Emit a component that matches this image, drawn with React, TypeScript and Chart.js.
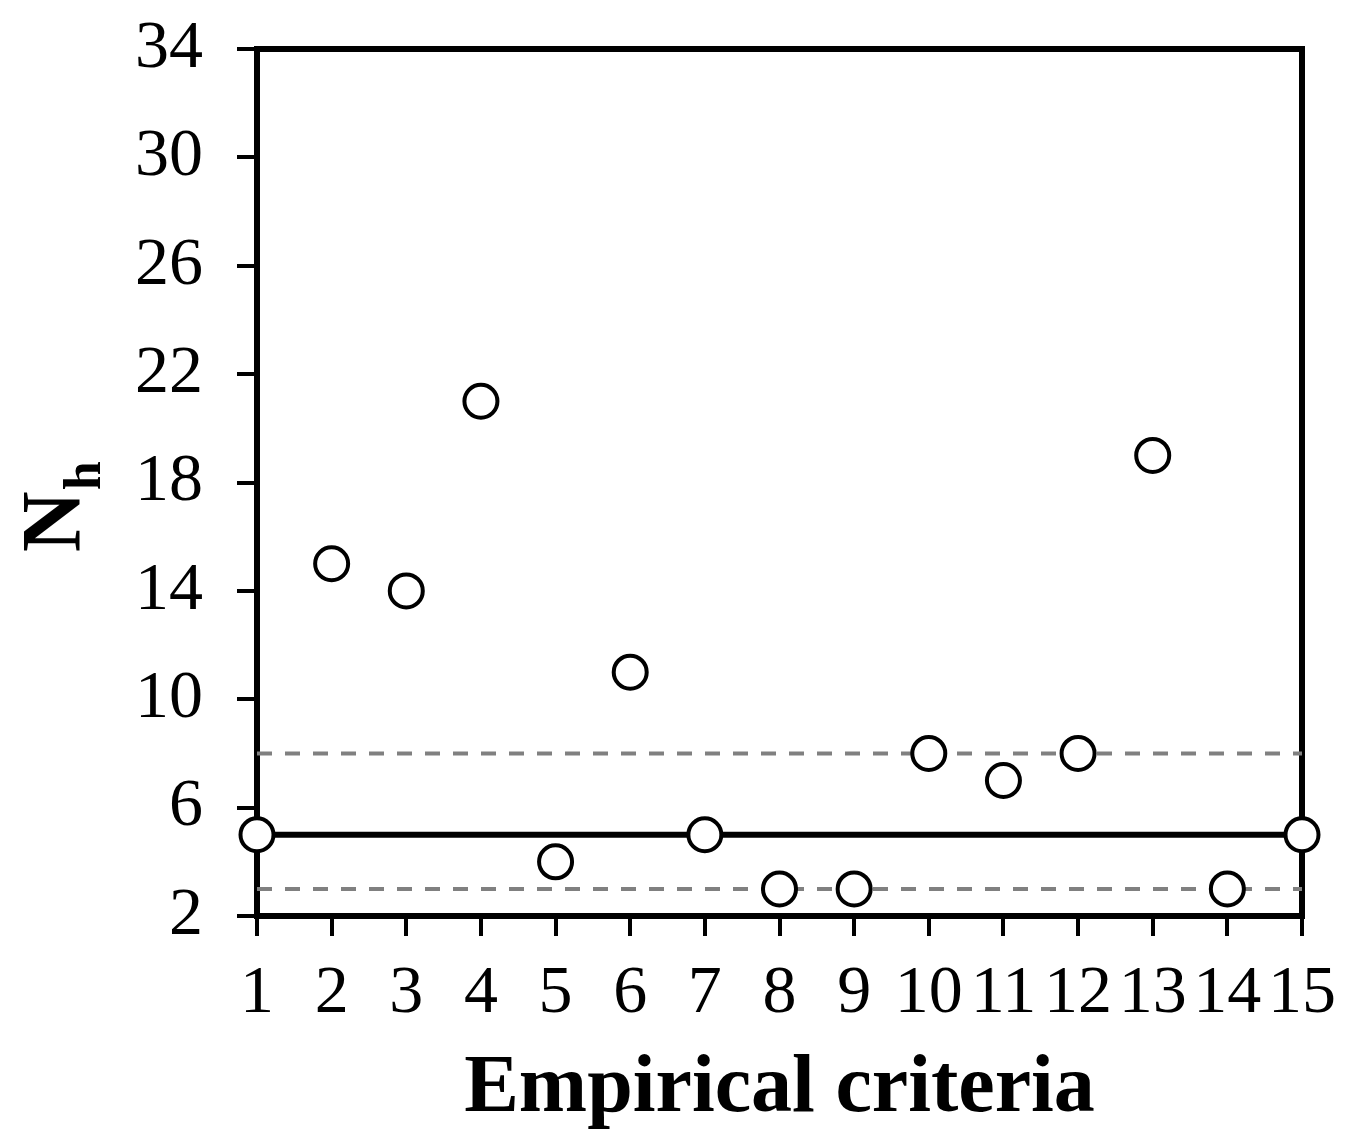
import React, { useEffect, useRef } from "react";
import { Chart, registerables } from "chart.js";

Chart.register(...registerables);

const criteria = [1, 2, 3, 4, 5, 6, 7, 8, 9, 10, 11, 12, 13, 14, 15];
const nhValues = [5, 15, 14, 21, 4, 11, 5, 3, 3, 8, 7, 8, 19, 3, 5];
const solidLevel = 5;
const dashedLevels = [8, 3];
const yMin = 2;
const yMax = 34;
const yStep = 4;
const xTitle = "Empirical criteria";
const yTitleMain = "N";
const yTitleSub = "h";

const FONT = "'Liberation Serif', 'Times New Roman', serif";

export default function App() {
  const ref = useRef<HTMLCanvasElement | null>(null);

  useEffect(() => {
    if (!ref.current) return;
    const xFirst = criteria[0];
    const xLast = criteria[criteria.length - 1];

    const framePlugin = {
      id: "frame",
      beforeDatasetsDraw(chart: any) {
        const { ctx, chartArea } = chart;
        ctx.save();
        ctx.strokeStyle = "#000";
        ctx.lineWidth = 6;
        ctx.strokeRect(chartArea.left, chartArea.top, chartArea.right - chartArea.left, chartArea.bottom - chartArea.top);
        ctx.restore();
      },
      afterDraw(chart: any) {
        const { ctx, chartArea } = chart;
        ctx.save();
        ctx.fillStyle = "#000";
        ctx.font = `bold 82px ${FONT}`;
        ctx.textAlign = "center";
        ctx.textBaseline = "alphabetic";
        ctx.fillText(xTitle, (chartArea.left + chartArea.right) / 2, 1111);
        ctx.translate(80, 552);
        ctx.rotate(-Math.PI / 2);
        ctx.textAlign = "left";
        ctx.font = `bold 84px ${FONT}`;
        ctx.fillText(yTitleMain, 0, 0);
        const w = ctx.measureText(yTitleMain).width;
        ctx.font = `bold 52px ${FONT}`;
        ctx.fillText(yTitleSub, w + 1, 20);
        ctx.restore();
      },
    };

    const chart = new Chart(ref.current, {
      type: "scatter",
      data: {
        datasets: [
          {
            type: "scatter",
            data: criteria.map((c, i) => ({ x: c, y: nhValues[i] })),
            pointRadius: 16.5,
            pointHoverRadius: 16.5,
            pointBackgroundColor: "#fff",
            pointBorderColor: "#000",
            pointBorderWidth: 4,
            clip: false,
            order: 0,
          } as any,
          {
            type: "line",
            data: [
              { x: xFirst, y: solidLevel },
              { x: xLast, y: solidLevel },
            ],
            borderColor: "#000",
            borderWidth: 6,
            pointRadius: 0,
            fill: false,
            clip: false,
            order: 1,
          } as any,
          ...dashedLevels.map(
            (lv) =>
              ({
                type: "line",
                data: [
                  { x: xFirst, y: lv },
                  { x: xLast, y: lv },
                ],
                borderColor: "#808080",
                borderWidth: 4,
                borderDash: [15, 13],
                pointRadius: 0,
                fill: false,
                clip: false,
                order: 2,
              } as any)
          ),
        ],
      },
      options: {
        responsive: true,
        maintainAspectRatio: false,
        animation: false,
        layout: { padding: { left: 0, top: 49, right: 54, bottom: 0 } },
        plugins: {
          legend: { display: false },
          tooltip: { enabled: false },
          title: { display: false },
        },
        scales: {
          x: {
            type: "linear",
            min: xFirst,
            max: xLast,
            afterFit(scale: any) {
              scale.height = 227;
              scale.paddingLeft = 0;
              scale.paddingRight = 0;
            },
            ticks: {
              stepSize: 1,
              color: "#000",
              font: { family: FONT, size: 68 },
              padding: 17,
              maxRotation: 0,
              autoSkip: false,
              includeBounds: true,
            },
            grid: {
              display: true,
              drawOnChartArea: false,
              drawTicks: true,
              tickLength: 20,
              lineWidth: 4,
              color: "#000",
            },
            border: { display: true, width: 6, color: "#000" },
          },
          y: {
            type: "linear",
            min: yMin,
            max: yMax,
            afterFit(scale: any) {
              scale.width = 257;
              scale.paddingTop = 0;
              scale.paddingBottom = 0;
            },
            ticks: {
              stepSize: yStep,
              color: "#000",
              font: { family: FONT, size: 68 },
              padding: 34,
            },
            grid: {
              display: true,
              drawOnChartArea: false,
              drawTicks: true,
              tickLength: 20,
              lineWidth: 4,
              color: "#000",
            },
            border: { display: true, width: 6, color: "#000" },
          },
        },
      },
      plugins: [framePlugin],
    } as any);

    return () => chart.destroy();
  }, []);

  return (
    <div style={{ position: "fixed", left: 0, top: 0, width: 1356, height: 1143, background: "#fff" }}>
      <canvas ref={ref} />
    </div>
  );
}
